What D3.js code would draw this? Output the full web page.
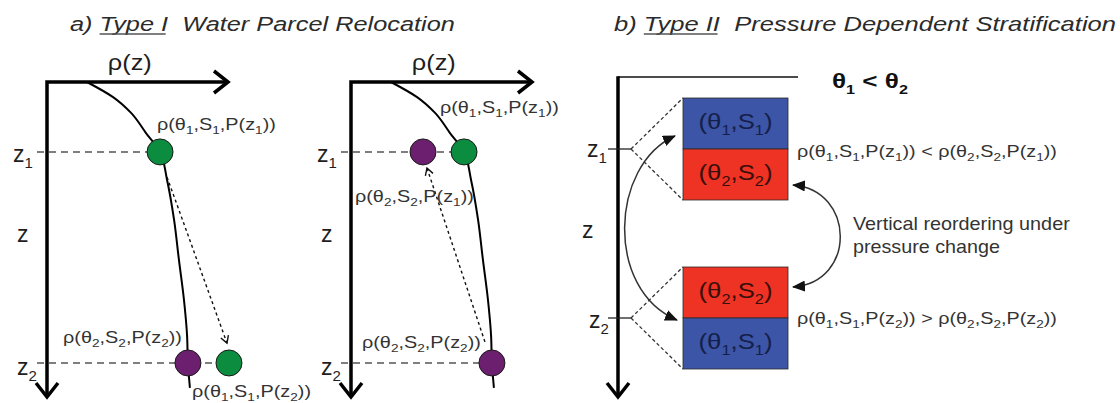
<!DOCTYPE html>
<html><head><meta charset="utf-8">
<script src="https://cdn.jsdelivr.net/npm/d3@7"></script>
<style>
body{margin:0;background:#fff;}
svg{display:block;}
text{font-family:"Liberation Sans",Arial,Helvetica,sans-serif;white-space:pre;}
</style>
</head><body>
<svg id="c" width="1120" height="403"></svg>
<script>
// ---------------- data (schematic units: rho 0..1 along density axis, z 0..1 along depth axis)
const depthNames   = ["z_1", "z_2"];
const depthLevels  = [0.222, 0.892];
const profileRho   = [0.222, 0.367, 0.467, 0.55, 0.628, 0.667, 0.706, 0.733, 0.761, 0.778, 0.783, 0.794];
const profileZ     = [0, 0.048, 0.098, 0.162, 0.222, 0.311, 0.438, 0.565, 0.692, 0.803, 0.892, 0.971];
// parcels: [rho, depth index, kind]
const parcelsLeft  = [[0.628, 0, "t1"], [0.783, 1, "t2"], [1.011, 1, "t1"]];
const parcelsRight = [[0.400, 0, "t2"], [0.628, 0, "t1"], [0.783, 1, "t2"]];
// displacement arrows: [rhoFrom, zFrom, rhoTo, zTo]
const moveLeft     = [0.667, 0.302, 1.0, 0.829];
const moveRight    = [0.744, 0.825, 0.422, 0.273];
// labels: [text, rho, z]
const labelsLeft   = [["ρ(θ_1,S_1,P(z_1))", 0.611, 0.152], ["ρ(θ_2,S_2,P(z_2))", 0.089, 0.829], ["ρ(θ_1,S_1,P(z_2))", 0.806, 1.0]];
const labelsRight  = [["ρ(θ_1,S_1,P(z_1))", 0.494, 0.098], ["ρ(θ_2,S_2,P(z_1))", 0.022, 0.381], ["ρ(θ_2,S_2,P(z_2))", 0.061, 0.844]];
const stackUpper   = [["(θ_1,S_1)", "t1"], ["(θ_2,S_2)", "t2"]];
const stackLower   = [["(θ_2,S_2)", "t2"], ["(θ_1,S_1)", "t1"]];
const relations    = ["ρ(θ_1,S_1,P(z_1)) < ρ(θ_2,S_2,P(z_1))", "ρ(θ_1,S_1,P(z_2)) > ρ(θ_2,S_2,P(z_2))"];
const titleA       = ["a) ", "Type I", "  Water Parcel Relocation"];
const titleB       = ["b) ", "Type II", "  Pressure Dependent Stratification"];
const noteLines    = ["Vertical reordering under", "pressure change"];
const condition    = "θ_1 < θ_2";

const parcelColor = {t1: "#0b8c3f", t2: "#6c1f6e"};
const layerColor  = {t1: "#3c55a6", t2: "#ee3324"};
const layerText   = {t1: "#15204a", t2: "#3a0e0a"};

// ---------------- setup
const svg = d3.select("#c");
const defs = svg.append("defs");
defs.append("marker").attr("id","chev").attr("markerUnits","userSpaceOnUse")
  .attr("viewBox","-2 -2 20 28").attr("refX",14).attr("refY",11).attr("markerWidth",20).attr("markerHeight",28)
  .attr("orient","auto-start-reverse")
  .append("path").attr("d","M0,0 L14,11 L0,22").attr("fill","none").attr("stroke","#000").attr("stroke-width",3.5);
defs.append("marker").attr("id","vee").attr("markerUnits","userSpaceOnUse")
  .attr("viewBox","-2 -2 12 12").attr("refX",7).attr("refY",4).attr("markerWidth",12).attr("markerHeight",12)
  .attr("orient","auto")
  .append("path").attr("d","M0,0 L7,4 L0,8").attr("fill","none").attr("stroke","#111").attr("stroke-width",1.4);
defs.append("marker").attr("id","tri").attr("markerUnits","userSpaceOnUse")
  .attr("viewBox","0 0 13 11").attr("refX",12).attr("refY",5.5).attr("markerWidth",13).attr("markerHeight",11)
  .attr("orient","auto-start-reverse")
  .append("path").attr("d","M0,0 L13,5.5 L0,11 Z").attr("fill","#111");

// rich text with "_x" subscripts; scaled horizontally to target width (if given)
function rich(x, y, str, o) {
  const g = svg.append("g").attr("transform", `translate(${x},${y})`);
  const t = g.append("text").attr("font-size", o.size).attr("fill", o.color || "#222")
    .attr("font-style", o.italic ? "italic" : null).attr("font-weight", o.bold ? "bold" : null)
    .attr("text-anchor", o.anchor || "start");
  const subSize = o.subSize || Math.round(o.size * 0.64);
  const subDy = o.subDy || o.size * 0.3;
  let segs = [], buf = "";
  for (let i = 0; i < str.length; i++) {
    if (str[i] === "_") { if (buf) segs.push([buf, false]); buf = ""; segs.push([str[i+1], true]); i++; }
    else buf += str[i];
  }
  if (buf) segs.push([buf, false]);
  let down = false;
  segs.forEach(([s, sub]) => {
    const ts = t.append("tspan").text(s);
    if (sub) { ts.attr("font-size", subSize); if (!down) ts.attr("dy", subDy); down = true; }
    else { if (down) ts.attr("dy", -subDy); down = false; }
  });
  if (o.width) {
    const w = t.node().getComputedTextLength();
    g.attr("transform", `translate(${x},${y}) scale(${o.width / w},1)`);
  }
  return g;
}

// ---------------- titles
function title(x, y, parts, width, sxFixed) {
  const g = svg.append("g");
  const t = g.append("text").attr("font-size", 21).attr("font-style","italic").attr("fill","#2b2b2b");
  parts.forEach(p => t.append("tspan").text(p));
  const n = t.node();
  const w = n.getComputedTextLength();
  const sx = sxFixed || width / w;
  const a = n.getSubStringLength(0, parts[0].length);
  const b = n.getSubStringLength(parts[0].length, parts[1].length);
  g.append("line").attr("x1", a).attr("x2", a + b - 2).attr("y1", 3).attr("y2", 3)
    .attr("stroke","#555").attr("stroke-width",1.4);
  g.attr("transform", `translate(${x},${y}) scale(${sx},1)`);
  return sx;
}
const sxT = title(70, 31, titleA, 385);
title(614, 31, titleB, null, sxT * 1.008);

// ---------------- panel a (two profiles)
const yA = d3.scaleLinear().domain([0, 1]).range([82, 397]);

function profilePanel(x0, parcels, move, labels) {
  const x = d3.scaleLinear().domain([0, 1]).range([x0, x0 + 180]);
  // axes
  svg.append("path").attr("d", `M${x0},${yA(1)} L${x0},${yA(0)} L${x(1) + 1},${yA(0)}`)
    .attr("fill","none").attr("stroke","#000").attr("stroke-width",3.5).attr("stroke-linejoin","miter")
    .attr("marker-start","url(#chev)").attr("marker-end","url(#chev)");
  rich(x(0.46), yA(0) - 12, "ρ(z)", {size: 22, anchor: "middle", width: 44, color: "#1e1e1e"});
  rich(x0 - 30, yA(0.508), "z", {size: 23, color: "#1e1e1e"});
  depthLevels.forEach((d, i) => {
    rich(x0 - 34 + i * 4, yA(d) + 10 + i * 2, depthNames[i], {size: 23, subSize: 15, subDy: 6, color: "#1e1e1e"});
    const last = d3.max(parcels.filter(p => p[1] === i), p => p[0]);
    svg.append("line").attr("x1", x0 - 10).attr("x2", x(last)).attr("y1", yA(d)).attr("y2", yA(d))
      .attr("stroke","#555").attr("stroke-width",1.6).attr("stroke-dasharray","7,5");
  });
  // profile
  const line = d3.line().x(d => x(d[0])).y(d => yA(d[1])).curve(d3.curveMonotoneY);
  svg.append("path").attr("d", line(d3.zip(profileRho, profileZ)))
    .attr("fill","none").attr("stroke","#000").attr("stroke-width",2);
  // displacement arrow
  svg.append("line").attr("x1", x(move[0])).attr("y1", yA(move[1])).attr("x2", x(move[2])).attr("y2", yA(move[3]))
    .attr("stroke","#111").attr("stroke-width",1.4).attr("stroke-dasharray","3,3").attr("marker-end","url(#vee)");
  // parcels
  svg.selectAll(null).data(parcels).enter().append("circle")
    .attr("cx", d => x(d[0])).attr("cy", d => yA(depthLevels[d[1]])).attr("r", 13)
    .attr("fill", d => parcelColor[d[2]]).attr("stroke","#1a1a1a").attr("stroke-width",1);
  // labels
  labels.forEach(l => rich(x(l[1]), yA(l[2]), l[0], {size: 16, subSize: 11, subDy: 4, width: 119, color: "#333"}));
}
profilePanel(47, parcelsLeft, moveLeft, labelsLeft);
profilePanel(351, parcelsRight, moveRight, labelsRight);

// ---------------- panel b (stratification)
const bx0 = 618;
const yB = d3.scaleLinear().domain([0, 1]).range([77, 397]);
const levelB = [149, 318];
const boxX = 683, boxW = 105, halfH = 51;

svg.append("line").attr("x1", bx0).attr("x2", 798).attr("y1", yB(0)).attr("y2", yB(0))
  .attr("stroke","#111").attr("stroke-width",1.6);
svg.append("path").attr("d", `M${bx0},${yB(0) - 0.8} L${bx0},${yB(1)}`)
  .attr("fill","none").attr("stroke","#000").attr("stroke-width",3.5).attr("marker-end","url(#chev)");
rich(832, 88, condition, {size: 21, bold: true, subSize: 13, subDy: 6, width: 76, color: "#111"});
rich(582, 238, "z", {size: 23, color: "#1e1e1e"});

[stackUpper, stackLower].forEach((stack, i) => {
  const yc = levelB[i];
  rich(587 + i * 2, yc + 8 + i * 2, depthNames[i], {size: 23, subSize: 15, subDy: 6, color: "#1e1e1e"});
  svg.append("line").attr("x1", 608).attr("x2", 631).attr("y1", yc).attr("y2", yc)
    .attr("stroke","#222").attr("stroke-width",1.3);
  [yc - halfH, yc + halfH].forEach(yy => svg.append("line")
    .attr("x1", 631).attr("y1", yc).attr("x2", boxX).attr("y2", yy)
    .attr("stroke","#333").attr("stroke-width",1.3).attr("stroke-dasharray","3.5,2.5"));
  stack.forEach((s, j) => {
    const top = yc - halfH + j * halfH;
    svg.append("rect").attr("x", boxX).attr("y", top).attr("width", boxW).attr("height", halfH)
      .attr("fill", layerColor[s[1]]).attr("stroke","#2a2a2a").attr("stroke-width",0.8);
    rich(boxX + boxW / 2, top + halfH / 2 + 5, s[0], {size: 22, subSize: 14, subDy: 6, anchor: "middle", width: 74, color: layerText[s[1]]});
  });
  rich(797, yc + 8 - (i ? 2 : 0), relations[i], {size: 16, subSize: 11, subDy: 4, width: 260, color: "#333"});
});

// reordering arrows
svg.append("path").attr("d", "M675,136 C610,165 605,290 677,320")
  .attr("fill","none").attr("stroke","#333").attr("stroke-width",1.5)
  .attr("marker-start","url(#tri)").attr("marker-end","url(#tri)");
svg.append("path").attr("d", "M793,185 C855,190 857,282 793,287")
  .attr("fill","none").attr("stroke","#333").attr("stroke-width",1.5)
  .attr("marker-start","url(#tri)").attr("marker-end","url(#tri)");
rich(853, 230, noteLines[0], {size: 18, width: 217, color: "#333"});
rich(853, 253, noteLines[1], {size: 18, width: 147, color: "#333"});
</script>
</body></html>
